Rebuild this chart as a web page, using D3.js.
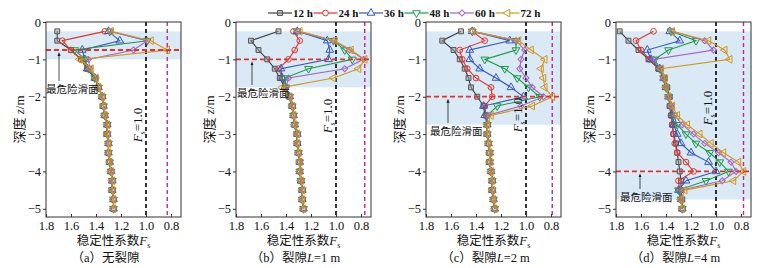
<!DOCTYPE html>
<html>
<head>
<meta charset="utf-8">
<script src="https://cdn.jsdelivr.net/npm/d3@7"></script>
<style>
  body { margin: 0; background: #fff; }
  svg text { font-family: "Liberation Serif", "Noto Sans CJK SC", serif; fill: #111; }
</style>
</head>
<body>
<script>
// depth of every evaluated slip surface (m)
let depths = [-0.25, -0.5, -0.75, -1.0, -1.25, -1.5, -1.75, -2.0, -2.25, -2.5,
  -2.75, -3.0, -3.25, -3.5, -3.75, -4.0, -4.25, -4.5, -4.75, -5.0];

let seriesNames = ["12 h", "24 h", "36 h", "48 h", "60 h", "72 h"];
let seriesColors = ["#3c3c3c", "#e5332a", "#3457c0", "#1b9a47", "#a463c6", "#d6961c"];

// stability factor Fs, one row per series (12 h ... 72 h)
let fsNoCrack = [
  [1.71, 1.71, 1.60, 1.52, 1.47, 1.41, 1.38, 1.35, 1.34, 1.33, 1.31, 1.31, 1.30, 1.30, 1.29, 1.28, 1.27, 1.27, 1.26, 1.26],
  [1.33, 1.67, 1.60, 1.52, 1.47, 1.41, 1.38, 1.35, 1.34, 1.33, 1.31, 1.31, 1.30, 1.30, 1.29, 1.28, 1.27, 1.27, 1.26, 1.26],
  [1.30, 1.21, 1.51, 1.49, 1.47, 1.41, 1.38, 1.35, 1.34, 1.33, 1.31, 1.31, 1.30, 1.30, 1.29, 1.28, 1.27, 1.27, 1.26, 1.26],
  [1.29, 0.99, 1.57, 1.49, 1.46, 1.41, 1.38, 1.35, 1.34, 1.33, 1.31, 1.31, 1.30, 1.30, 1.29, 1.28, 1.27, 1.27, 1.26, 1.26],
  [1.29, 0.99, 1.10, 1.46, 1.45, 1.40, 1.38, 1.35, 1.34, 1.33, 1.31, 1.31, 1.30, 1.30, 1.29, 1.28, 1.27, 1.27, 1.26, 1.26],
  [1.28, 0.96, 0.83, 1.53, 1.44, 1.40, 1.38, 1.35, 1.34, 1.33, 1.31, 1.31, 1.30, 1.30, 1.29, 1.28, 1.27, 1.27, 1.26, 1.26]
];
let fsCrack1 = [
  [1.46, 1.68, 1.62, 1.55, 1.49, 1.45, 1.41, 1.37, 1.35, 1.34, 1.33, 1.31, 1.31, 1.30, 1.29, 1.29, 1.28, 1.27, 1.27, 1.26],
  [1.34, 1.29, 1.33, 1.38, 1.46, 1.43, 1.40, 1.37, 1.35, 1.34, 1.33, 1.31, 1.31, 1.30, 1.29, 1.29, 1.28, 1.27, 1.27, 1.26],
  [1.31, 1.07, 1.05, 1.06, 1.44, 1.43, 1.41, 1.37, 1.35, 1.34, 1.33, 1.31, 1.31, 1.30, 1.29, 1.29, 1.28, 1.27, 1.27, 1.26],
  [1.31, 1.02, 0.93, 0.87, 1.22, 1.41, 1.40, 1.37, 1.35, 1.34, 1.33, 1.31, 1.31, 1.30, 1.29, 1.29, 1.28, 1.27, 1.27, 1.26],
  [1.31, 1.02, 0.89, 0.78, 0.93, 1.38, 1.40, 1.37, 1.35, 1.34, 1.33, 1.31, 1.31, 1.30, 1.29, 1.29, 1.28, 1.27, 1.27, 1.26],
  [1.29, 1.01, 0.88, 0.77, 0.82, 1.02, 1.43, 1.37, 1.35, 1.34, 1.33, 1.31, 1.31, 1.30, 1.29, 1.29, 1.28, 1.27, 1.27, 1.26]
];
let fsCrack2 = [
  [1.52, 1.67, 1.58, 1.53, 1.49, 1.46, 1.44, 1.39, 1.34, 1.32, 1.31, 1.31, 1.30, 1.29, 1.29, 1.28, 1.27, 1.27, 1.26, 1.25],
  [1.43, 1.33, 1.53, 1.51, 1.47, 1.40, 1.28, 1.27, 1.33, 1.32, 1.31, 1.31, 1.30, 1.29, 1.29, 1.28, 1.27, 1.27, 1.26, 1.25],
  [1.43, 1.13, 1.45, 1.45, 1.37, 1.24, 1.12, 1.02, 1.34, 1.33, 1.31, 1.31, 1.30, 1.29, 1.29, 1.28, 1.27, 1.27, 1.26, 1.25],
  [1.43, 1.08, 1.08, 1.33, 1.17, 1.07, 0.98, 0.89, 1.23, 1.31, 1.31, 1.31, 1.30, 1.29, 1.29, 1.28, 1.27, 1.27, 1.26, 1.25],
  [1.43, 1.08, 1.01, 1.04, 1.05, 1.00, 0.95, 0.86, 1.04, 1.31, 1.31, 1.31, 1.30, 1.29, 1.29, 1.28, 1.27, 1.27, 1.26, 1.25],
  [1.43, 1.06, 0.96, 0.85, 0.88, 0.86, 0.85, 0.79, 0.95, 1.28, 1.31, 1.31, 1.30, 1.29, 1.29, 1.28, 1.27, 1.27, 1.26, 1.25]
];
let fsCrack4 = [
  [1.77, 1.70, 1.62, 1.54, 1.46, 1.41, 1.39, 1.37, 1.37, 1.36, 1.35, 1.34, 1.32, 1.31, 1.30, 1.29, 1.28, 1.28, 1.27, 1.27],
  [1.50, 1.64, 1.60, 1.53, 1.46, 1.42, 1.40, 1.38, 1.37, 1.36, 1.35, 1.34, 1.33, 1.31, 1.24, 1.18, 1.30, 1.29, 1.28, 1.27],
  [1.37, 1.29, 1.55, 1.52, 1.45, 1.42, 1.40, 1.38, 1.36, 1.35, 1.34, 1.31, 1.28, 1.20, 1.06, 1.00, 1.24, 1.30, 1.28, 1.27],
  [1.36, 1.16, 1.38, 1.49, 1.45, 1.42, 1.40, 1.38, 1.36, 1.34, 1.31, 1.24, 1.16, 1.05, 0.97, 0.90, 1.08, 1.30, 1.28, 1.27],
  [1.35, 1.09, 1.02, 1.50, 1.44, 1.42, 1.40, 1.38, 1.36, 1.33, 1.27, 1.18, 1.09, 0.98, 0.88, 0.84, 0.95, 1.28, 1.28, 1.27],
  [1.35, 1.06, 0.93, 0.89, 1.44, 1.41, 1.40, 1.38, 1.35, 1.31, 1.23, 1.13, 1.04, 0.94, 0.82, 0.78, 0.86, 1.25, 1.28, 1.27]
];

let slipDepth = [-0.75, -1.0, -2.0, -4.0];      // most dangerous slip surface
let bandBottom = [-1.0, -1.75, -2.75, -4.75];   // shaded zone, starts at -0.25
let captionLetters = ["a", "b", "c", "d"];
let crackLengths = [null, 1, 2, 4];

let xTicks = [1.8, 1.6, 1.4, 1.2, 1.0, 0.8];
let yTicks = [0, -1, -2, -3, -4, -5];

let panels = [fsNoCrack, fsCrack1, fsCrack2, fsCrack4];

// layout
let plotLefts = [46, 236, 426, 616];
let plotTop = 22, plotW = 135, plotH = 195;
// annotation placement per panel: label x offset, label baseline, arrow x offset, Fs label centre y
let annot = [
  { lx: 0, ly: 93, ax: 13, fy: 125 },
  { lx: 1, ly: 97, ax: 16, fy: 116 },
  { lx: 4, ly: 135, ax: 22, fy: 115 },
  { lx: 4, ly: 201, ax: 24, fy: 108 }
];

let svg = d3.select("body").append("svg").attr("width", 767).attr("height", 268);

let x = d3.scaleLinear().domain([1.8, 0.72]).range([0, plotW]);
let y = d3.scaleLinear().domain([0, -5.22]).range([0, plotH]);

let symbols = [
  { type: d3.symbolSquare, size: 24, rot: 0 },
  { type: d3.symbolCircle, size: 26, rot: 0 },
  { type: d3.symbolTriangle, size: 26, rot: 0 },
  { type: d3.symbolTriangle, size: 26, rot: 180 },
  { type: d3.symbolSquare, size: 18, rot: 45 },
  { type: d3.symbolTriangle, size: 26, rot: -90 }
];

svg.append("defs").append("marker")
  .attr("id", "arrowHead").attr("viewBox", "0 0 10 10")
  .attr("refX", 5).attr("refY", 5)
  .attr("markerWidth", 5).attr("markerHeight", 6)
  .attr("orient", "auto")
  .append("path").attr("d", "M0,1L10,5L0,9Z").attr("fill", "#222");

panels.forEach(function(data, p) {
  let g = svg.append("g").attr("transform", "translate(" + plotLefts[p] + "," + plotTop + ")");

  g.append("rect")
    .attr("x", 0).attr("width", plotW)
    .attr("y", y(-0.25)).attr("height", y(bandBottom[p]) - y(-0.25))
    .attr("fill", "#d9eaf6");

  let minFs = d3.min(data, d => d3.min(d));

  // reference lines
  g.append("line").attr("x1", x(1.0)).attr("x2", x(1.0)).attr("y1", 0).attr("y2", plotH)
    .attr("stroke", "#000").attr("stroke-width", 1.6).attr("stroke-dasharray", "4,3");
  g.append("line").attr("x1", x(minFs)).attr("x2", x(minFs)).attr("y1", 0).attr("y2", plotH)
    .attr("stroke", "#c2268f").attr("stroke-width", 1.4).attr("stroke-dasharray", "4,3");

  let line = d3.line().x(d => x(d[1])).y(d => y(d[0]));

  data.forEach(function(vals, s) {
    let pts = depths.map((d, i) => [d, vals[i]]);
    g.append("path").datum(pts)
      .attr("d", line)
      .attr("fill", "none")
      .attr("stroke", seriesColors[s])
      .attr("stroke-width", 1.1);
    g.selectAll(".m" + s).data(pts).enter().append("path")
      .attr("class", "m" + s)
      .attr("d", d3.symbol().type(symbols[s].type).size(symbols[s].size))
      .attr("transform", d => "translate(" + x(d[1]) + "," + y(d[0]) + ") rotate(" + symbols[s].rot + ")")
      .attr("fill", s === 0 ? "#9a9a9a" : "none")
      .attr("fill-opacity", s === 0 ? 0.5 : 1)
      .attr("stroke", s === 0 ? "#555" : seriesColors[s])
      .attr("stroke-width", 1);
  });

  // most dangerous slip surface
  g.append("line").attr("x1", 0).attr("x2", plotW).attr("y1", y(slipDepth[p])).attr("y2", y(slipDepth[p]))
    .attr("stroke", "#e5302b").attr("stroke-width", 1.8).attr("stroke-dasharray", "5,3");

  let a = annot[p];
  g.append("line")
    .attr("x1", a.ax).attr("x2", a.ax)
    .attr("y1", a.ly - 12 - plotTop).attr("y2", y(slipDepth[p]) + 4)
    .attr("stroke", "#222").attr("stroke-width", 0.8)
    .attr("marker-end", "url(#arrowHead)");
  g.append("text").attr("x", a.lx).attr("y", a.ly - plotTop)
    .attr("font-size", 10.5)
    .text("最危险滑面");

  // Fs = 1.0 label
  let fl = g.append("text")
    .attr("transform", "translate(" + (x(1.0) - 4) + "," + (a.fy - plotTop) + ") rotate(-90)")
    .attr("text-anchor", "middle").attr("font-size", 13);
  fl.append("tspan").attr("font-style", "italic").text("F");
  fl.append("tspan").attr("font-size", 8).attr("dy", 3).text("s");
  fl.append("tspan").attr("dy", -3).text("=1.0");

  // frame
  g.append("rect").attr("width", plotW).attr("height", plotH)
    .attr("fill", "none").attr("stroke", "#333").attr("stroke-width", 1);

  // axes
  let xa = g.append("g").attr("transform", "translate(0," + plotH + ")")
    .call(d3.axisBottom(x).tickValues(xTicks).tickSize(-3).tickSizeOuter(0).tickPadding(4).tickFormat(d3.format(".1f")));
  let ya = g.append("g")
    .call(d3.axisLeft(y).tickValues(yTicks).tickSize(3).tickSizeOuter(0).tickPadding(2)
      .tickFormat(d => d === 0 ? "0" : "\u2212" + Math.abs(d)));
  [xa, ya].forEach(function(ax) {
    ax.select(".domain").remove();
    ax.selectAll("text").attr("font-size", 12.5).attr("fill", "#111")
      .style("font-family", "'Liberation Serif', serif");
    ax.selectAll("line").attr("stroke", "#333");
  });

  // axis titles
  let yl = g.append("text")
    .attr("transform", "translate(" + (-22) + "," + (plotH / 2) + ") rotate(-90)")
    .attr("text-anchor", "middle").attr("font-size", 13);
  yl.append("tspan").text("深度 ");
  yl.append("tspan").attr("font-style", "italic").text("z");
  yl.append("tspan").text("/m");

  let xl = g.append("text").attr("x", plotW / 2).attr("y", plotH + 28)
    .attr("text-anchor", "middle").attr("font-size", 12.5);
  xl.append("tspan").text("稳定性系数");
  xl.append("tspan").attr("font-style", "italic").attr("font-size", 13).text("F");
  xl.append("tspan").attr("font-size", 8).attr("dy", 3).text("s");

  let cap = g.append("text").attr("x", plotW / 2 - 8).attr("y", plotH + 45)
    .attr("text-anchor", "middle").attr("font-size", 12.5);
  cap.append("tspan").text("（" + captionLetters[p] + "）");
  if (crackLengths[p] === null) {
    cap.append("tspan").text("无裂隙");
  } else {
    cap.append("tspan").text("裂隙");
    cap.append("tspan").attr("font-style", "italic").text("L");
    cap.append("tspan").text("=" + crackLengths[p] + " m");
  }
});

// legend
let legendX = 268, legendStep = 45.5, legendY = 13;
seriesNames.forEach(function(name, s) {
  let lg = svg.append("g").attr("transform", "translate(" + (legendX + s * legendStep) + "," + legendY + ")");
  lg.append("line").attr("x1", 0).attr("x2", 24).attr("stroke", seriesColors[s]).attr("stroke-width", 1.2);
  lg.append("path")
    .attr("d", d3.symbol().type(symbols[s].type).size(symbols[s].size))
    .attr("transform", "translate(12,0) rotate(" + symbols[s].rot + ")")
    .attr("fill", s === 0 ? "#9a9a9a" : "#fff")
    .attr("fill-opacity", s === 0 ? 0.5 : 1)
    .attr("stroke", s === 0 ? "#555" : seriesColors[s]).attr("stroke-width", 1);
  lg.append("text").attr("x", 25).attr("y", 4).attr("font-size", 11).attr("font-weight", "bold").text(name);
});
</script>
</body>
</html>
